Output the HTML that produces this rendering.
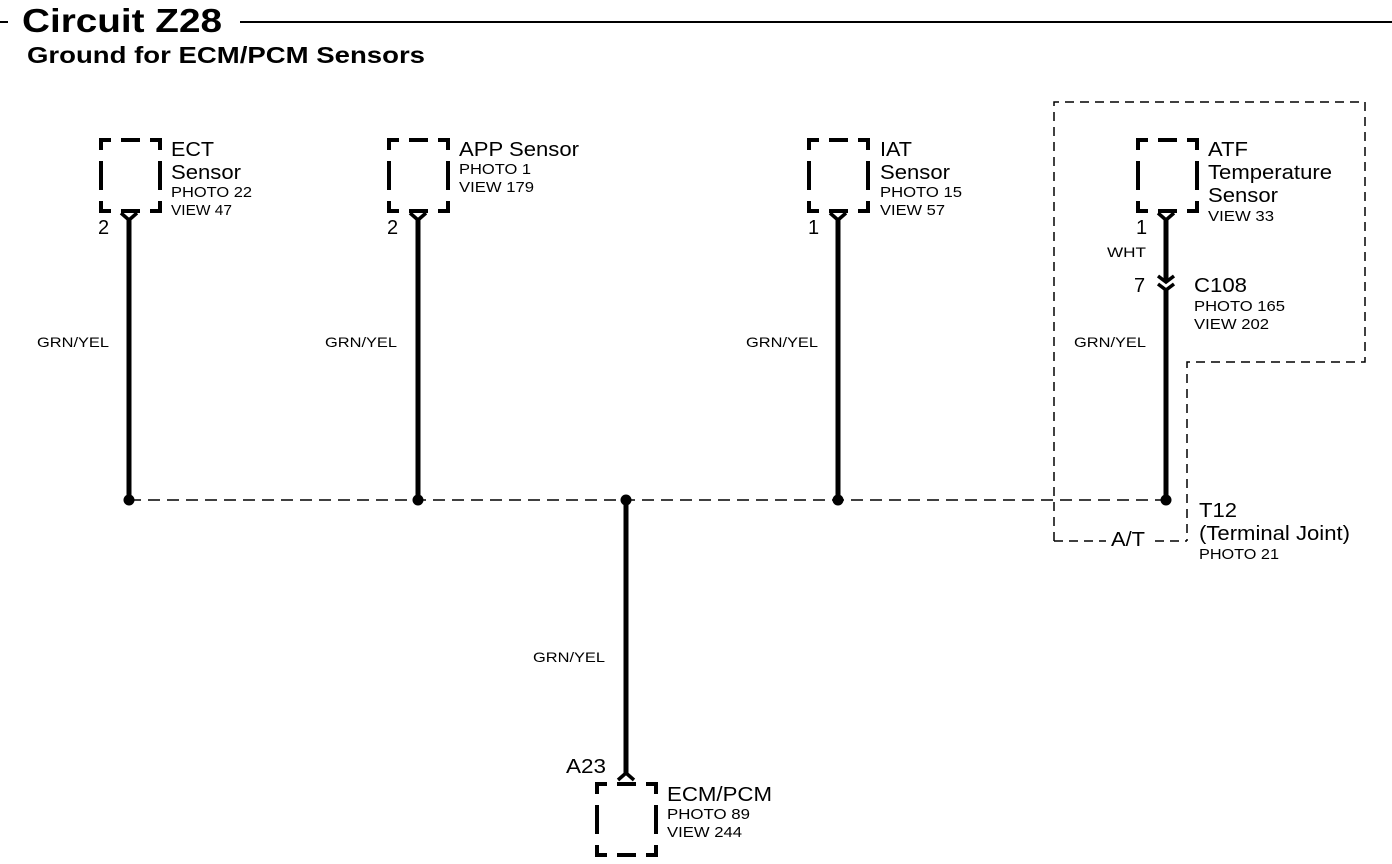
<!DOCTYPE html>
<html><head><meta charset="utf-8"><style>
html,body{margin:0;padding:0;background:#fff;}
svg{display:block;}
text{font-family:"Liberation Sans",Arial,sans-serif;fill:#000;}
.b{font-size:20px;}
.s{font-size:15px;}
.w{font-size:14px;}
</style></head><body>
<svg width="1392" height="864" viewBox="0 0 1392 864" xmlns="http://www.w3.org/2000/svg">
<rect width="1392" height="864" fill="#fff"/>
<line x1="0" y1="22" x2="8" y2="22" stroke="#000" stroke-width="2"/>
<text x="22" y="32" font-size="33" font-weight="bold" textLength="200" lengthAdjust="spacingAndGlyphs">Circuit Z28</text>
<line x1="240" y1="22" x2="1392" y2="22" stroke="#000" stroke-width="2"/>
<text x="27" y="63" font-size="23" font-weight="bold" textLength="398" lengthAdjust="spacingAndGlyphs">Ground for ECM/PCM Sensors</text>

<defs>
<path id="box" d="M0,10 V0 H10 M20,0 H39 M49,0 H59 V10 M59,21 V50 M59,61 V71 H49 M39,71 H20 M10,71 H0 V61 M0,21 V50" fill="none" stroke="#000" stroke-width="4"/>
</defs>

<g fill="none" stroke="#000" stroke-width="1.5" stroke-dasharray="9,6">
<polyline points="1054,541 1054,102 1365,102 1365,362 1187,362 1187,541"/>
<line x1="1054" y1="541" x2="1106" y2="541"/>
<line x1="1155" y1="541" x2="1187" y2="541"/>
</g>
<text x="1111" y="546" class="b" textLength="34" lengthAdjust="spacingAndGlyphs">A/T</text>

<line x1="129" y1="500" x2="1166" y2="500" stroke="#000" stroke-width="1.5" stroke-dasharray="12,7"/>

<g stroke="#000" stroke-width="5" fill="none">
<line x1="129" y1="218" x2="129" y2="500"/>
<line x1="418" y1="218" x2="418" y2="500"/>
<line x1="838" y1="218" x2="838" y2="500"/>
<line x1="1166" y1="218" x2="1166" y2="280"/>
<line x1="1166" y1="290" x2="1166" y2="500"/>
<line x1="626" y1="500" x2="626" y2="774"/>
</g>
<g stroke="#000" stroke-width="3.5" fill="none">
<polyline points="121,213 129,220 137,213"/>
<polyline points="410,213 418,220 426,213"/>
<polyline points="830,213 838,220 846,213"/>
<polyline points="1158,213 1166,220 1174,213"/>
<polyline points="1158,276 1166,282 1174,276"/>
<polyline points="1158,284 1166,290 1174,284"/>
<polyline points="618,780 626,773 634,780"/>
</g>
<g fill="#000">
<circle cx="129" cy="500" r="5.5"/>
<circle cx="418" cy="500" r="5.5"/>
<circle cx="626" cy="500" r="5.5"/>
<circle cx="838" cy="500" r="5.5"/>
<circle cx="1166" cy="500" r="5.5"/>
</g>

<use href="#box" x="101" y="140"/>
<use href="#box" x="389" y="140"/>
<use href="#box" x="809" y="140"/>
<use href="#box" x="1138" y="140"/>
<use href="#box" x="597" y="784"/>

<g lengthAdjust="spacingAndGlyphs">
<text x="171" y="156" class="b" textLength="43" lengthAdjust="spacingAndGlyphs">ECT</text>
<text x="171" y="179" class="b" textLength="70" lengthAdjust="spacingAndGlyphs">Sensor</text>
<text x="171" y="197" class="s" textLength="81" lengthAdjust="spacingAndGlyphs">PHOTO 22</text>
<text x="171" y="215" class="s" textLength="61" lengthAdjust="spacingAndGlyphs">VIEW 47</text>
<text x="98" y="234" class="b">2</text>
<text x="37" y="347" class="w" textLength="72" lengthAdjust="spacingAndGlyphs">GRN/YEL</text>

<text x="459" y="156" class="b" textLength="120" lengthAdjust="spacingAndGlyphs">APP Sensor</text>
<text x="459" y="174" class="s" textLength="72" lengthAdjust="spacingAndGlyphs">PHOTO 1</text>
<text x="459" y="192" class="s" textLength="75" lengthAdjust="spacingAndGlyphs">VIEW 179</text>
<text x="387" y="234" class="b">2</text>
<text x="325" y="347" class="w" textLength="72" lengthAdjust="spacingAndGlyphs">GRN/YEL</text>

<text x="880" y="156" class="b" textLength="32" lengthAdjust="spacingAndGlyphs">IAT</text>
<text x="880" y="179" class="b" textLength="70" lengthAdjust="spacingAndGlyphs">Sensor</text>
<text x="880" y="197" class="s" textLength="82" lengthAdjust="spacingAndGlyphs">PHOTO 15</text>
<text x="880" y="215" class="s" textLength="65" lengthAdjust="spacingAndGlyphs">VIEW 57</text>
<text x="808" y="234" class="b">1</text>
<text x="746" y="347" class="w" textLength="72" lengthAdjust="spacingAndGlyphs">GRN/YEL</text>

<text x="1208" y="156" class="b" textLength="40" lengthAdjust="spacingAndGlyphs">ATF</text>
<text x="1208" y="179" class="b" textLength="124" lengthAdjust="spacingAndGlyphs">Temperature</text>
<text x="1208" y="202" class="b" textLength="70" lengthAdjust="spacingAndGlyphs">Sensor</text>
<text x="1208" y="221" class="s" textLength="66" lengthAdjust="spacingAndGlyphs">VIEW 33</text>
<text x="1136" y="234" class="b">1</text>
<text x="1107" y="257" class="w" textLength="39" lengthAdjust="spacingAndGlyphs">WHT</text>
<text x="1134" y="292" class="b">7</text>
<text x="1194" y="292" class="b" textLength="53" lengthAdjust="spacingAndGlyphs">C108</text>
<text x="1194" y="311" class="s" textLength="91" lengthAdjust="spacingAndGlyphs">PHOTO 165</text>
<text x="1194" y="329" class="s" textLength="75" lengthAdjust="spacingAndGlyphs">VIEW 202</text>
<text x="1074" y="347" class="w" textLength="72" lengthAdjust="spacingAndGlyphs">GRN/YEL</text>

<text x="1199" y="517" class="b" textLength="38" lengthAdjust="spacingAndGlyphs">T12</text>
<text x="1199" y="540" class="b" textLength="151" lengthAdjust="spacingAndGlyphs">(Terminal Joint)</text>
<text x="1199" y="559" class="s" textLength="80" lengthAdjust="spacingAndGlyphs">PHOTO 21</text>

<text x="533" y="662" class="w" textLength="72" lengthAdjust="spacingAndGlyphs">GRN/YEL</text>
<text x="566" y="773" class="b" textLength="40" lengthAdjust="spacingAndGlyphs">A23</text>
<text x="667" y="801" class="b" textLength="105" lengthAdjust="spacingAndGlyphs">ECM/PCM</text>
<text x="667" y="819" class="s" textLength="83" lengthAdjust="spacingAndGlyphs">PHOTO 89</text>
<text x="667" y="837" class="s" textLength="75" lengthAdjust="spacingAndGlyphs">VIEW 244</text>
</g>
</svg>
</body></html>
